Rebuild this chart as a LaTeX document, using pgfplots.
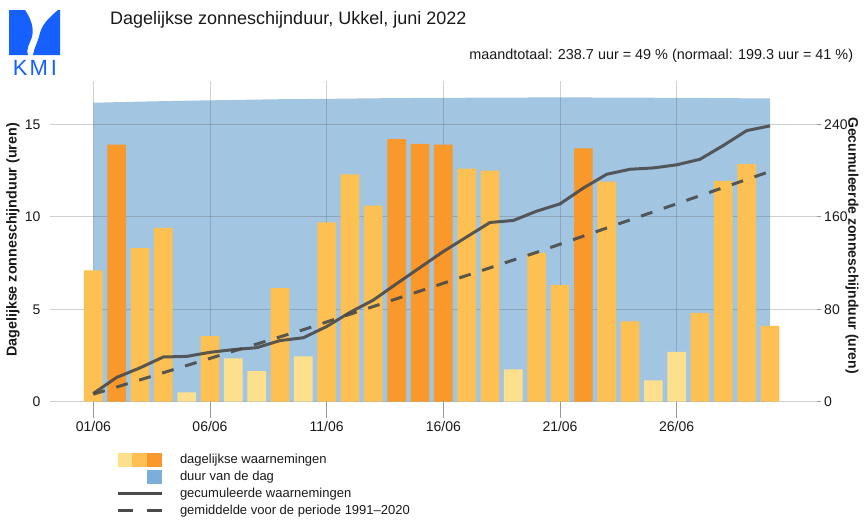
\documentclass[border=0pt]{standalone}
\usepackage{pgfplots}
\pgfplotsset{compat=1.18}
\usepackage{fontspec}
\setmainfont{Liberation Sans}
\definecolor{light}{HTML}{FDE08E}
\definecolor{mid}{HTML}{FDC153}
\definecolor{dark}{HTML}{F9982B}
\definecolor{dayblue}{HTML}{A2C5E2}
\definecolor{legblue}{HTML}{7BAFD9}
\definecolor{kmiblue}{HTML}{1560FF}
\definecolor{linegray}{HTML}{4A4A4A}
\definecolor{gridgray}{HTML}{575757}
\definecolor{tickgray}{HTML}{999999}

\pgfplotstableread{
day hours
2 13.9
14 14.2
15 13.95
16 13.9
22 13.7
}\darkbars
\pgfplotstableread{
day hours
1 7.1
3 8.3
4 9.4
6 3.55
9 6.15
11 9.7
12 12.3
13 10.6
17 12.6
18 12.5
20 8.05
21 6.3
23 11.9
24 4.35
27 4.8
28 11.95
29 12.85
30 4.1
}\midbars
\pgfplotstableread{
day hours
5 0.5
7 2.35
8 1.65
10 2.45
19 1.75
25 1.15
26 2.7
}\lightbars
\pgfplotstableread{
day cum
1 7.1
2 21.0
3 29.3
4 38.7
5 39.2
6 42.75
7 45.1
8 46.75
9 52.9
10 55.35
11 65.05
12 77.35
13 87.95
14 102.15
15 116.1
16 130.0
17 142.6
18 155.1
19 156.85
20 164.9
21 171.2
22 184.9
23 196.8
24 201.15
25 202.3
26 205.0
27 209.8
28 221.75
29 234.6
30 238.7
}\cumobs
\pgfplotstableread{
day cum
1 6.5
5 31.3
10 62.3
15 95.8
20 129.3
25 164.3
30 199.3
}\cumnorm
\pgfplotstableread{
day len
1 16.17
3 16.23
5 16.28
7 16.32
9 16.36
11 16.38
13 16.41
15 16.43
17 16.44
19 16.45
21 16.46
23 16.45
25 16.44
27 16.43
29 16.41
30 16.40
}\daylen

\begin{document}
\begin{tikzpicture}[x=1pt,y=1pt]
% logo
\fill[kmiblue] (9,-10) -- (25,-10) .. controls (33,-22) and (35,-32) .. (30,-42)
  .. controls (27,-48) and (27,-52) .. (28,-55) -- (9,-55) -- cycle;
\fill[kmiblue] (60,-10) -- (58,-10) .. controls (51,-16) and (42,-24) .. (40,-33)
  .. controls (38,-42) and (34,-48) .. (33,-55) -- (60,-55) -- cycle;
\node[kmiblue, anchor=base, inner sep=0pt] at (35,-75)
  {\fontsize{22}{22}\selectfont K\kern2pt M\kern3pt I};
% titles
\node[anchor=base west, inner sep=0pt, text=black!90] at (110,-24)
  {\fontsize{18}{18}\selectfont Dagelijkse zonneschijnduur, Ukkel, juni 2022};
\node[anchor=base east, inner sep=0pt, text=black!90] at (853.3,-59.3)
  {\fontsize{14.4}{14.4}\selectfont maandtotaal: 238.7 uur = 49 \% (normaal: 199.3 uur = 41 \%)};

\begin{axis}[
  at={(50pt,-81.1pt)}, anchor=north west,
  scale only axis, width=766.7pt, height=320.6pt,
  xmin=-0.856, xmax=32, ymin=0, ymax=17.34,
  set layers,
  axis line style={draw=none},
  xtick={1,6,11,16,21,26},
  xticklabels={01/06,06/06,11/06,16/06,21/06,26/06},
  ytick={0,5,10,15},
  tick align=outside, tick pos=left,
  major tick length=16pt,
  xtick style={color=tickgray, line width=0.8pt},
  ytick style={draw=none},
  grid=major,
  grid style={color=gridgray, opacity=0.28, line width=0.9pt},
  /pgf/number format/assume math mode=true,
  ticklabel style={font=\fontsize{14}{14}\selectfont, text=black!90},
  yticklabel style={xshift=10pt},
]
\addplot[fill=dayblue, draw=none, on layer=axis background, forget plot]
  table[x=day, y=len]{\daylen} \closedcycle;
\addplot[ybar, bar width=18.7pt, bar shift=0pt, fill=light, draw=none, forget plot] table[x=day, y=hours]{\lightbars};
\addplot[ybar, bar width=18.7pt, bar shift=0pt, fill=mid, draw=none, forget plot] table[x=day, y=hours]{\midbars};
\addplot[ybar, bar width=18.7pt, bar shift=0pt, fill=dark, draw=none, forget plot] table[x=day, y=hours]{\darkbars};
\end{axis}

\begin{axis}[
  at={(50pt,-81.1pt)}, anchor=north west,
  scale only axis, width=766.7pt, height=320.6pt,
  xmin=-0.856, xmax=32, ymin=0, ymax=277.44,
  axis x line=none, axis y line*=right,
  y axis line style={draw=none},
  ytick={0,80,160,240},
  tick align=outside,
  major tick length=4pt,
  ytick style={color=tickgray, line width=0.8pt},
  /pgf/number format/assume math mode=true,
  yticklabel style={font=\fontsize{14}{14}\selectfont, text=black!90},
  legend style={at={(axis description cs:0.0861,-0.1553)}, anchor=north west,
    draw=none, fill=none, inner sep=0pt, outer sep=0pt,
    nodes={inner sep=0pt, anchor=west, font=\fontsize{13}{13}\selectfont, text=black!90},
    row sep=0pt, /tikz/every odd column/.append style={column sep=17pt}},
  legend cell align=left,
]
\addlegendimage{legend image code/.code={
  \path[draw=none, fill=none] (0pt,-8.45pt) rectangle (44pt,8.45pt);
  \fill[light, draw=none] (0pt,-7pt) rectangle (14.7pt,7pt);
  \fill[mid, draw=none] (14.7pt,-7pt) rectangle (29.3pt,7pt);
  \fill[dark, draw=none] (29.3pt,-7pt) rectangle (44pt,7pt);}}
\addlegendentry{dagelijkse waarnemingen}
\addlegendimage{legend image code/.code={
  \path[draw=none, fill=none] (0pt,-8.45pt) rectangle (44pt,8.45pt);
  \fill[legblue, draw=none] (29.3pt,-7pt) rectangle (44pt,7pt);}}
\addlegendentry{duur van de dag}
\addlegendimage{legend image code/.code={
  \path[draw=none, fill=none] (0pt,-8.45pt) rectangle (44pt,8.45pt);
  \draw[linegray, line width=3pt] (0pt,0pt) -- (44pt,0pt);}}
\addlegendentry{gecumuleerde waarnemingen}
\addlegendimage{legend image code/.code={
  \path[draw=none, fill=none] (0pt,-8.45pt) rectangle (44pt,8.45pt);
  \draw[linegray, line width=3pt, dash pattern=on 15pt off 14pt] (0pt,0pt) -- (44pt,0pt);}}
\addlegendentry{gemiddelde voor de periode 1991--2020}

\addplot[linegray, opacity=0.9, line width=3pt, line join=round, forget plot]
  table[x=day, y=cum]{\cumobs};
\addplot[linegray, opacity=0.9, line width=3pt, dash pattern=on 12pt off 12pt, forget plot]
  table[x=day, y=cum]{\cumnorm};
\end{axis}

% axis titles
\node[rotate=90, inner sep=0pt, text=black!90] at (13,-240)
  {\fontsize{14.3}{14.3}\selectfont\bfseries Dagelijkse zonneschijnduur (uren)};
\node[rotate=-90, inner sep=0pt, text=black!90] at (852,-245.5)
  {\fontsize{14}{14}\selectfont\bfseries Gecumuleerde zonneschijnduur (uren)};
\path (0,0) rectangle (864,-520);
\end{tikzpicture}
\end{document}
